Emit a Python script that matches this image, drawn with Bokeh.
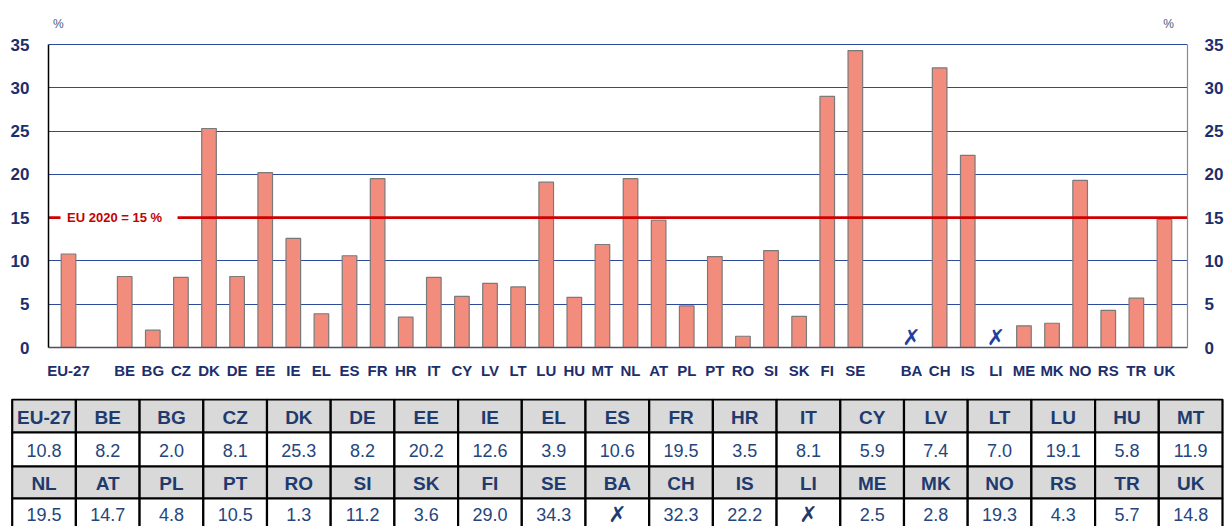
from bokeh.plotting import figure
from bokeh.models import Range1d, LinearAxis, FixedTicker
from bokeh.embed import file_html
from bokeh.resources import INLINE
from bokeh.core.properties import value

# ---------------- data ----------------
countries = ["EU-27", "BE", "BG", "CZ", "DK", "DE", "EE", "IE", "EL", "ES",
             "FR", "HR", "IT", "CY", "LV", "LT", "LU", "HU", "MT",
             "NL", "AT", "PL", "PT", "RO", "SI", "SK", "FI", "SE",
             "BA", "CH", "IS", "LI", "ME", "MK", "NO", "RS", "TR", "UK"]
shares = [10.8, 8.2, 2.0, 8.1, 25.3, 8.2, 20.2, 12.6, 3.9, 10.6,
          19.5, 3.5, 8.1, 5.9, 7.4, 7.0, 19.1, 5.8, 11.9,
          19.5, 14.7, 4.8, 10.5, 1.3, 11.2, 3.6, 29.0, 34.3,
          None, 32.3, 22.2, None, 2.5, 2.8, 19.3, 4.3, 5.7, 14.8]
gap_after = ["EU-27", "SE"]          # an empty slot follows these
eu_target = 15
eu_target_label = "EU 2020 = 15 %"
y_ticks = [0, 5, 10, 15, 20, 25, 30, 35]
y_max = 35
unit_label = "%"
missing_mark = "\u2717"

# ---------------- positions ----------------
pos = []
i = 0
for c in countries:
    pos.append(i)
    i += 2 if c in gap_after else 1

NAVY = "#1C2E6B"
FONT = value("Liberation Sans")

XL, XR = -0.712, 39.82
YTOP = 38.93
p = figure(width=1226, height=398, x_range=Range1d(XL, XR), y_range=Range1d(0, YTOP),
           output_backend="svg", toolbar_location=None,
           min_border_left=48, min_border_right=39, min_border_top=10, min_border_bottom=51)
p.outline_line_color = None
p.xgrid.visible = False
p.ygrid.ticker = FixedTicker(ticks=[t for t in y_ticks if t not in (0, eu_target)])
p.ygrid.grid_line_color = "#2E4A9A"
p.ygrid.grid_line_width = 1.2
p.ygrid.bounds = (XL, XR)

def style_y(ax, standoff):
    ax.ticker = FixedTicker(ticks=y_ticks)
    ax.bounds = (0, y_max)
    ax.major_tick_line_color = None
    ax.minor_tick_line_color = None
    ax.major_label_text_font = "Liberation Sans"
    ax.major_label_text_font_style = "bold"
    ax.major_label_text_font_size = "17px"
    ax.major_label_text_color = NAVY
    ax.major_label_standoff = standoff

ly = p.yaxis[0]
style_y(ly, 13)
ly.axis_line_color = "black"
ly.axis_line_width = 1.5

ry = LinearAxis()
style_y(ry, 11)
ry.axis_line_color = "#8A8A8A"
ry.axis_line_width = 1.2
p.add_layout(ry, "right")

xa = p.xaxis[0]
xa.ticker = FixedTicker(ticks=pos)
xa.major_label_overrides = {x: c for x, c in zip(pos, countries)}
xa.major_tick_line_color = None
xa.minor_tick_line_color = None
xa.axis_line_color = "#4A5068"
xa.axis_line_width = 1.5
xa.major_label_text_font = "Liberation Sans"
xa.major_label_text_font_style = "bold"
xa.major_label_text_font_size = "15px"
xa.major_label_text_color = NAVY
xa.major_label_standoff = 8

bx = [x for x, v in zip(pos, shares) if v is not None]
bv = [v for v in shares if v is not None]
p.vbar(x=bx, top=bv, width=0.52, fill_color="#F28C7C", line_color="#7A7A7A", line_width=1.2)

# EU 2020 target line with inline label
p.segment(x0=[XL, 3.88], x1=[-0.285, XR], y0=[eu_target] * 2, y1=[eu_target] * 2,
          line_color="#D00000", line_width=2.6)
p.text(x=[-0.05], y=[eu_target], text=[eu_target_label], text_align="left", text_baseline="middle",
       text_font=FONT, text_font_style="bold", text_font_size="13px", text_color="#C40000")

mx = [x for x, v in zip(pos, shares) if v is None]
p.text(x=mx, y=[1.1] * len(mx), text=[missing_mark] * len(mx), text_align="center",
       text_baseline="middle", text_font=value("DejaVu Sans"), text_font_style="bold italic",
       text_font_size="22px", text_color="#1F3FA0")

# unit labels above both axes
p.text(x=[-0.36, 39.15], y=[37.4, 37.4], text=[unit_label] * 2, text_align="center",
       text_baseline="middle", text_font=FONT, text_font_size="12px", text_color="#4A5A80")

# ---------------- table ----------------
ncol = 19
cw = 63.7
t = figure(width=1226, height=128, x_range=Range1d(-11.7 / cw, -11.7 / cw + 1226 / cw),
           y_range=Range1d(128, 0),
           output_backend="svg", toolbar_location=None, x_axis_type=None, y_axis_type=None,
           min_border=0)
t.grid.visible = False
t.outline_line_color = None
row_edges = [1, 34, 68, 100, 134]
for b in range(2):
    names = countries[b * ncol:(b + 1) * ncol]
    vals = shares[b * ncol:(b + 1) * ncol]
    cols = list(range(len(names)))
    rh, rv = 2 * b, 2 * b + 1
    t.quad(left=cols, right=[c + 1 for c in cols], top=[row_edges[rh]] * len(cols),
           bottom=[row_edges[rh + 1]] * len(cols), fill_color="#D9D9D9", line_color="black", line_width=2.2)
    t.quad(left=cols, right=[c + 1 for c in cols], top=[row_edges[rv]] * len(cols),
           bottom=[row_edges[rv + 1]] * len(cols), fill_color="white", line_color="black", line_width=2.2)
    t.text(x=[c + 0.5 for c in cols], y=[(row_edges[rh] + row_edges[rh + 1]) / 2 + 1] * len(cols),
           text=names, text_align="center", text_baseline="middle", text_font=FONT,
           text_font_style="bold", text_font_size="19px", text_color="#1F3B6E")
    yv = (row_edges[rv] + row_edges[rv + 1]) / 2 + 1 if b == 0 else 116
    vc = [c + 0.5 for c, v in zip(cols, vals) if v is not None]
    vt = ["%.1f" % v for v in vals if v is not None]
    t.text(x=vc, y=[yv] * len(vc), text=vt, text_align="center", text_baseline="middle",
           text_font=FONT, text_font_size="18px", text_color="#24467E")
    mc = [c + 0.5 for c, v in zip(cols, vals) if v is None]
    t.text(x=mc, y=[yv] * len(mc), text=[missing_mark] * len(mc), text_align="center",
           text_baseline="middle", text_font=value("DejaVu Sans"), text_font_style="bold italic",
           text_font_size="22px", text_color="#1F3B6E")

open("out.html", "w").write(file_html([p, t], INLINE))
